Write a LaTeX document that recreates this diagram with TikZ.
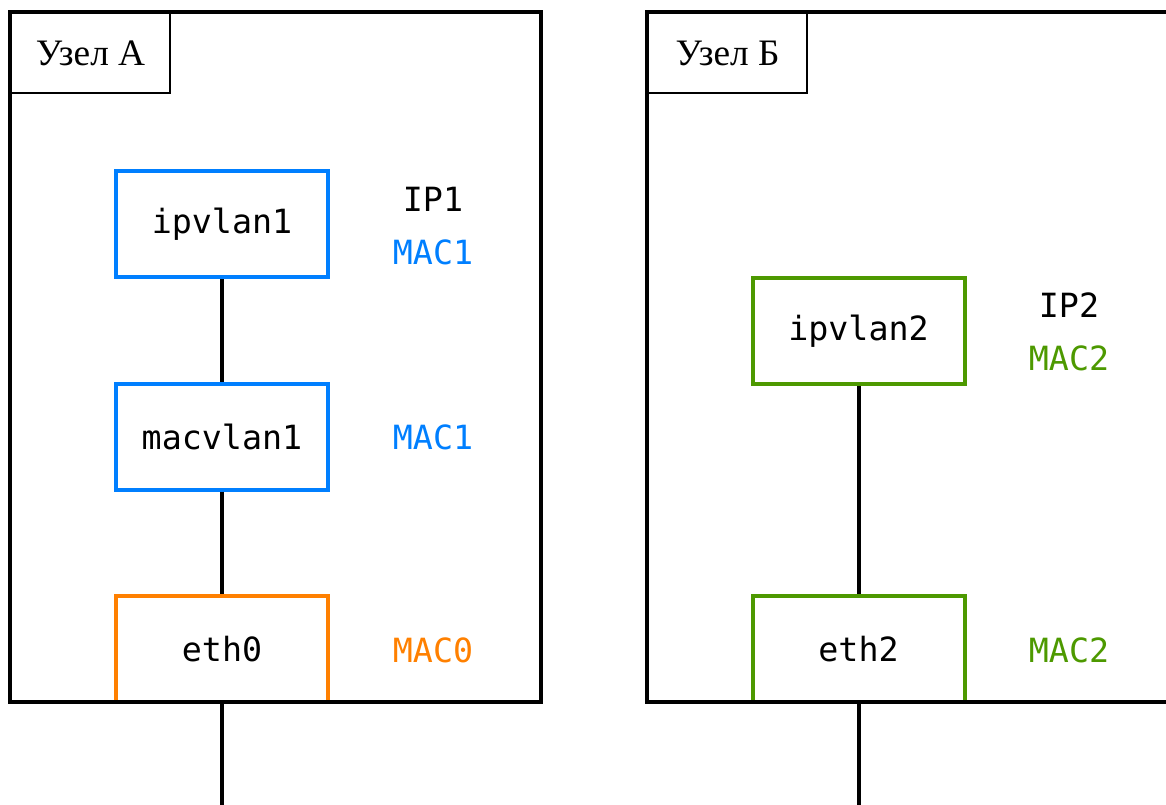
\documentclass[tikz,border=0pt]{standalone}
\usepackage{fontspec}
\setmainfont{Liberation Serif}
\setmonofont{DejaVu Sans Mono}
\usetikzlibrary{positioning}
\definecolor{ifblue}{RGB}{0,127,255}
\definecolor{iforange}{RGB}{255,128,0}
\definecolor{ifgreen}{RGB}{77,153,0}

\begin{document}
\begin{tikzpicture}[x=0.75pt,y=-0.75pt,
  iface/.style={draw,line width=3pt,minimum width=159pt,minimum height=79.5pt,inner sep=0pt,font=\fontsize{25}{28}\selectfont\ttfamily},
  addr/.style={inner sep=0pt,font=\fontsize{25}{28}\selectfont\ttfamily},
  hostlbl/.style={draw,line width=1.5pt,anchor=north west,minimum width=119.25pt,minimum height=60pt,inner sep=0pt,font=\fontsize{28}{30}\selectfont},
  frame/.style={line width=3pt},
  wire/.style={line width=3pt}]
\useasboundingbox (0,0) rectangle (1166,805);
% interfaces of host A
\node[iface,draw=ifblue] (ipvlan1) at (222,224.5) {ipvlan1};
\node[iface,draw=ifblue] (macvlan1) at (222,436.5) {macvlan1};
\node[iface,draw=iforange] (eth0) at (222,649) {eth0};
\node[addr] (ip1) at (433,199) {IP1};
\node[addr,text=ifblue] (mac1a) at (433,252) {MAC1};
\node[addr,text=ifblue] (mac1b) at (433,437) {MAC1};
\node[addr,text=iforange] (mac0) at (433,650) {MAC0};
% interfaces of host B
\node[iface,draw=ifgreen] (ipvlan2) at (858.5,331) {ipvlan2};
\node[iface,draw=ifgreen] (eth2) at (858.5,649) {eth2};
\node[addr] (ip2) at (1069,305) {IP2};
\node[addr,text=ifgreen] (mac2a) at (1069,358) {MAC2};
\node[addr,text=ifgreen] (mac2b) at (1069,650) {MAC2};
% hosts
\draw[frame] (10,12) rectangle (541,702);
\draw[frame] (647,12) rectangle (1200,702);
\node[hostlbl] (hostA) at (10,12) {Узел А};
\node[hostlbl] (hostB) at (647,12) {Узел Б};
% wires
\coordinate (busA) at (222,807.5);
\draw[wire] (ipvlan1) -- (macvlan1);
\draw[wire] (macvlan1) -- (eth0);
\draw[wire] (ipvlan2) -- (eth2);
\draw[wire] (eth0.south) -- (busA) -| (eth2.south);
\end{tikzpicture}
\end{document}
